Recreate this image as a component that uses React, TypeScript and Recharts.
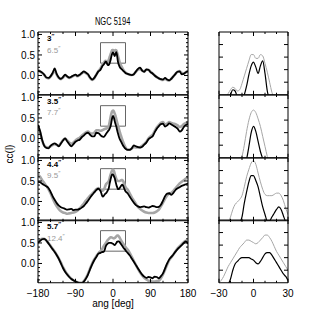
import React from 'react';
import { LineChart, Line, XAxis, YAxis, ReferenceArea } from 'recharts';

// position angle grid: 5 deg outside the box, 2 deg inside it (used by the zoom panels)
const angles = [
  -180, -175, -170, -165, -160, -155, -150, -145, -140, -135, -130, -125, -120, -115, -110,
  -105, -100, -95, -90, -85, -80, -75, -70, -65, -60, -55, -50, -45, -40, -35,
  -30, -28, -26, -24, -22, -20, -18, -16, -14, -12, -10, -8, -6, -4, -2, 0,
  2, 4, 6, 8, 10, 12, 14, 16, 18, 20, 22, 24, 26, 28, 30,
  35, 40, 45, 50, 55, 60, 65, 70, 75, 80, 85, 90, 95, 100, 105,
  110, 115, 120, 125, 130, 135, 140, 145, 150, 155, 160, 165, 170, 175, 180,
];

// black curves (small scale)
const cc3_0 = [
  0.12, 0.10, 0.07, 0.02, -0.05, -0.06, -0.02, 0.06, 0.17, 0.03, -0.05, -0.08, -0.04, 0.02, -0.02,
  -0.05, -0.03, 0.00, 0.02, -0.01, 0.02, 0.06, 0.10, 0.07, 0.03, -0.05, -0.10, -0.06, 0.02, 0.10,
  0.14, 0.18, 0.22, 0.25, 0.27, 0.30, 0.34, 0.33, 0.28, 0.25, 0.26, 0.30, 0.37, 0.46, 0.53, 0.56,
  0.52, 0.47, 0.53, 0.57, 0.47, 0.33, 0.26, 0.21, 0.18, 0.16, 0.14, 0.12, 0.10, 0.08, 0.06,
  0.04, 0.02, 0.01, 0.03, 0.10, 0.16, 0.19, 0.12, 0.09, 0.15, 0.14, 0.08, 0.05, 0.00, -0.04,
  -0.07, -0.09, -0.10, -0.06, -0.10, -0.12, -0.08, -0.02, 0.04, 0.09, 0.10, 0.03, 0.04, 0.08, 0.10,
];
const cc3_5 = [
  0.33, 0.18, -0.04, -0.18, -0.23, -0.24, -0.18, -0.14, -0.12, -0.15, -0.19, -0.12, -0.05, 0.00, -0.07,
  -0.14, -0.19, -0.14, -0.08, -0.05, -0.03, 0.03, 0.07, 0.12, 0.14, 0.09, 0.05, 0.05, 0.14, 0.13,
  0.08, 0.06, 0.05, 0.04, 0.04, 0.06, 0.09, 0.12, 0.15, 0.18, 0.20, 0.24, 0.29, 0.39, 0.50, 0.55,
  0.51, 0.43, 0.35, 0.29, 0.20, 0.12, 0.05, -0.01, -0.05, -0.09, -0.13, -0.17, -0.20, -0.23, -0.25,
  -0.28, -0.28, -0.24, -0.17, -0.19, -0.21, -0.22, -0.20, -0.15, -0.10, -0.02, 0.02, 0.05, 0.15, 0.24,
  0.30, 0.35, 0.36, 0.29, 0.32, 0.37, 0.34, 0.31, 0.28, 0.24, 0.17, 0.20, 0.28, 0.33, 0.36,
];
const cc4_4 = [
  0.48, 0.47, 0.43, 0.40, 0.37, 0.33, 0.24, 0.13, 0.04, -0.04, -0.10, -0.14, -0.16, -0.18, -0.20,
  -0.19, -0.18, -0.21, -0.20, -0.20, -0.18, -0.15, -0.11, -0.05, 0.02, 0.09, 0.16, 0.22, 0.28, 0.31,
  0.26, 0.20, 0.14, 0.12, 0.14, 0.17, 0.19, 0.21, 0.24, 0.28, 0.33, 0.44, 0.53, 0.61, 0.66, 0.66,
  0.62, 0.57, 0.49, 0.41, 0.35, 0.30, 0.30, 0.33, 0.36, 0.39, 0.41, 0.39, 0.34, 0.29, 0.25,
  0.20, 0.12, 0.04, -0.03, -0.09, -0.12, -0.14, -0.13, -0.12, -0.14, -0.15, -0.13, -0.11, -0.12, -0.14,
  -0.13, -0.08, 0.02, 0.13, 0.19, 0.20, 0.16, 0.21, 0.28, 0.32, 0.35, 0.38, 0.40, 0.42, 0.44,
];
const cc5_7 = [
  0.50, 0.55, 0.59, 0.60, 0.56, 0.49, 0.42, 0.35, 0.28, 0.20, 0.11, 0.00, -0.11, -0.20, -0.27,
  -0.33, -0.38, -0.41, -0.44, -0.46, -0.48, -0.48, -0.44, -0.37, -0.27, -0.14, -0.02, 0.08, 0.16, 0.24,
  0.26, 0.27, 0.28, 0.28, 0.29, 0.33, 0.40, 0.45, 0.47, 0.49, 0.50, 0.50, 0.50, 0.50, 0.49, 0.48,
  0.46, 0.45, 0.47, 0.50, 0.53, 0.54, 0.54, 0.52, 0.49, 0.46, 0.43, 0.40, 0.37, 0.35, 0.32,
  0.26, 0.20, 0.12, 0.04, -0.04, -0.12, -0.20, -0.27, -0.32, -0.35, -0.33, -0.34, -0.36, -0.32, -0.33,
  -0.36, -0.31, -0.24, -0.12, 0.00, 0.10, 0.16, 0.22, 0.29, 0.35, 0.40, 0.45, 0.50, 0.54, 0.48,
];

// grey curves (large scale)
const cc6_5 = [
  0.13, 0.10, 0.06, 0.01, -0.05, -0.07, -0.03, 0.04, 0.12, 0.02, -0.06, -0.09, -0.05, 0.00, -0.03,
  -0.06, -0.04, -0.01, 0.01, -0.02, 0.01, 0.05, 0.08, 0.06, 0.02, -0.06, -0.11, -0.07, 0.02, 0.11,
  0.17, 0.21, 0.25, 0.28, 0.31, 0.34, 0.36, 0.35, 0.33, 0.34, 0.39, 0.45, 0.51, 0.57, 0.62, 0.62,
  0.59, 0.59, 0.62, 0.61, 0.55, 0.48, 0.40, 0.32, 0.27, 0.23, 0.19, 0.15, 0.12, 0.09, 0.07,
  0.04, 0.02, 0.01, 0.03, 0.09, 0.14, 0.16, 0.12, 0.10, 0.14, 0.14, 0.09, 0.05, 0.00, -0.04,
  -0.07, -0.10, -0.11, -0.08, -0.11, -0.12, -0.08, -0.02, 0.04, 0.09, 0.11, 0.06, 0.05, 0.08, 0.11,
];
const cc7_7 = [
  0.30, 0.15, -0.05, -0.17, -0.21, -0.22, -0.19, -0.16, -0.14, -0.16, -0.17, -0.11, -0.04, 0.00, -0.05,
  -0.10, -0.13, -0.10, -0.05, -0.01, 0.02, 0.07, 0.11, 0.15, 0.17, 0.13, 0.12, 0.14, 0.20, 0.20,
  0.19, 0.19, 0.20, 0.21, 0.22, 0.23, 0.24, 0.24, 0.25, 0.26, 0.31, 0.40, 0.51, 0.60, 0.66, 0.68,
  0.66, 0.61, 0.55, 0.47, 0.39, 0.31, 0.24, 0.17, 0.10, 0.04, -0.02, -0.08, -0.13, -0.18, -0.22,
  -0.27, -0.27, -0.25, -0.21, -0.22, -0.22, -0.21, -0.18, -0.13, -0.08, 0.00, 0.05, 0.09, 0.18, 0.27,
  0.33, 0.38, 0.40, 0.34, 0.36, 0.40, 0.38, 0.36, 0.35, 0.32, 0.28, 0.30, 0.35, 0.38, 0.40,
];
const cc9_5 = [
  0.66, 0.60, 0.52, 0.45, 0.38, 0.30, 0.20, 0.08, -0.03, -0.12, -0.19, -0.24, -0.27, -0.28, -0.30,
  -0.29, -0.28, -0.27, -0.25, -0.22, -0.17, -0.11, -0.05, 0.02, 0.08, 0.14, 0.19, 0.24, 0.30, 0.33,
  0.27, 0.26, 0.26, 0.27, 0.29, 0.33, 0.39, 0.43, 0.45, 0.47, 0.50, 0.57, 0.65, 0.71, 0.76, 0.78,
  0.75, 0.68, 0.61, 0.55, 0.51, 0.50, 0.50, 0.50, 0.51, 0.52, 0.52, 0.50, 0.46, 0.40, 0.35,
  0.29, 0.20, 0.10, 0.02, -0.06, -0.13, -0.18, -0.22, -0.25, -0.27, -0.28, -0.28, -0.28, -0.27, -0.24,
  -0.20, -0.12, -0.03, 0.07, 0.15, 0.19, 0.21, 0.26, 0.32, 0.38, 0.44, 0.48, 0.52, 0.56, 0.60,
];
const cc12_4 = [
  0.52, 0.57, 0.60, 0.60, 0.56, 0.50, 0.43, 0.36, 0.29, 0.21, 0.12, 0.02, -0.09, -0.18, -0.26,
  -0.32, -0.37, -0.41, -0.44, -0.46, -0.47, -0.47, -0.43, -0.35, -0.25, -0.12, 0.00, 0.10, 0.18, 0.25,
  0.30, 0.32, 0.35, 0.39, 0.43, 0.46, 0.49, 0.52, 0.55, 0.58, 0.60, 0.62, 0.64, 0.64, 0.63, 0.62,
  0.61, 0.62, 0.64, 0.66, 0.68, 0.68, 0.66, 0.63, 0.59, 0.55, 0.52, 0.49, 0.46, 0.43, 0.40,
  0.34, 0.26, 0.16, 0.06, -0.04, -0.13, -0.22, -0.29, -0.35, -0.39, -0.42, -0.43, -0.44, -0.44, -0.43,
  -0.42, -0.36, -0.27, -0.15, -0.03, 0.08, 0.15, 0.22, 0.30, 0.37, 0.42, 0.47, 0.52, 0.55, 0.50,
];

const scaleLabels = [
  ['3', '6.5'],
  ['3.5', '7.7'],
  ['4.4', '9.5'],
  ['5.7', '12.4'],
];
const blackSeries = [cc3_0, cc3_5, cc4_4, cc5_7];
const greySeries = [cc6_5, cc7_7, cc9_5, cc12_4];

const xTicks = [-180, -90, 0, 90, 180];
const xMinor = [-150, -120, -60, -30, 30, 60, 120, 150];
const yTicks = [0, 0.5, 1.0];
const yMinor = [-0.4, -0.3, -0.2, -0.1, 0.1, 0.2, 0.3, 0.4, 0.6, 0.7, 0.8, 0.9];
const zoomXTicks = [-30, 0, 30];
const zoomXMinor = [-20, -10, 10, 20];
const zoomYTicks = [0.4, 0.5, 0.6, 0.7];
const box = { x1: -30, x2: 30, y1: 0.3, y2: 0.8 };

const FONT = "'Liberation Sans', Arial, sans-serif";
const TOP = 32;
const BOTTOM = 283;
const PH = (BOTTOM - TOP) / 4;
const PAD = 6;
const GREY = '#a6a6a6';

const fmtX = (v: number) => String(v).replace('-', '\u2212');
const fmtY = (v: number) => v.toFixed(1);

// inward ticks drawn along one edge of a panel, with labels on major ticks when asked
const edgeTick = (side: string, majors: number[], label: boolean, fmt: (v: number) => string) => (p: any) => {
  const { x, y, payload } = p;
  const v = payload.value;
  const major = majors.includes(v);
  const len = major ? 4 : 2;
  let l = { x1: x, y1: y, x2: x, y2: y - len };
  if (side === 'top') l = { x1: x, y1: y, x2: x, y2: y + len };
  if (side === 'left') l = { x1: x, y1: y, x2: x + len, y2: y };
  if (side === 'right') l = { x1: x, y1: y, x2: x - len, y2: y };
  return (
    <g>
      <line {...l} stroke="#000" strokeWidth={1} />
      {label && major && side === 'bottom' && (
        <text x={x} y={y + 14} textAnchor="middle" fontSize={10} fill="#000">
          {fmt(v)}
        </text>
      )}
      {label && major && side === 'left' && (
        <text x={x - 3} y={y} dy="0.36em" textAnchor="end" fontSize={10} fill="#000">
          {fmt(v)}
        </text>
      )}
    </g>
  );
};

function frame(
  xDomain: number[],
  xMajor: number[],
  xMin: number[],
  yDomain: number[],
  yMajor: number[],
  yMin: number[],
  showX: boolean,
  showY: boolean,
  yWidth: number,
) {
  const xAll = [...xMajor, ...xMin].sort((a, b) => a - b);
  const yAll = [...yMajor, ...yMin].sort((a, b) => a - b);
  const xc = {
    type: 'number' as const,
    dataKey: 'ang',
    domain: xDomain,
    allowDataOverflow: true,
    interval: 0 as const,
    stroke: '#000',
    ticks: xAll,
    tickSize: 0,
    tickMargin: 0,
    tickLine: false,
  };
  const yc = {
    type: 'number' as const,
    domain: yDomain,
    allowDataOverflow: true,
    interval: 0 as const,
    stroke: '#000',
    ticks: yAll,
    tickSize: 0,
    tickMargin: 0,
    tickLine: false,
  };
  return [
    <XAxis key="xt" xAxisId="xt" orientation="top" {...xc} height={1} tick={edgeTick('top', xMajor, false, fmtX)} />,
    <XAxis key="xb" xAxisId="xb" {...xc} height={showX ? 20 : 1} tick={edgeTick('bottom', xMajor, showX, fmtX)} />,
    <YAxis key="yr" yAxisId="yr" orientation="right" {...yc} width={1} tick={edgeTick('right', yMajor, false, fmtY)} />,
    <YAxis key="yl" yAxisId="yl" {...yc} width={showY ? yWidth : 1} tick={edgeTick('left', yMajor, showY, fmtY)} />,
  ];
}

function Panel({ i, zoom }: { i: number; zoom: boolean }) {
  const rows = angles.map((a, k) => ({ ang: a, b: blackSeries[i][k], g: greySeries[i][k] }));
  const last = i === 3;
  const top = TOP + i * PH;
  const h = PAD + PH + (last ? 20 : PAD);
  const left = zoom ? 205 : 0;
  const width = zoom ? 91 : 202;
  const margin = zoom
    ? { top: PAD - 1, right: 7, bottom: last ? 0 : PAD - 1, left: 13 }
    : { top: PAD - 1, right: 13, bottom: last ? 0 : PAD - 1, left: 0 };
  const axes = zoom
    ? frame([-30, 30], zoomXTicks, zoomXMinor, [0.3, 0.8], zoomYTicks, [], last, false, 1)
    : frame([-180, 180], xTicks, xMinor, [-0.47, 1.06], yTicks, yMinor, last, true, 38);
  return (
    <div style={{ position: 'absolute', left, top: top - PAD }}>
      <LineChart width={width} height={h} data={rows} margin={margin} style={{ fontFamily: FONT }}>
        {axes}
        <Line
          xAxisId="xb"
          yAxisId="yl"
          dataKey="g"
          type="monotone"
          stroke={GREY}
          strokeWidth={zoom ? 1 : 2.6}
          dot={false}
          isAnimationActive={false}
        />
        <Line
          xAxisId="xb"
          yAxisId="yl"
          dataKey="b"
          type="monotone"
          stroke="#000"
          strokeWidth={zoom ? 1.2 : 1.8}
          dot={false}
          isAnimationActive={false}
        />
        {!zoom && (
          <ReferenceArea
            xAxisId="xb"
            yAxisId="yl"
            x1={box.x1}
            x2={box.x2}
            y1={box.y1}
            y2={box.y2}
            fill="none"
            stroke="#666"
            strokeWidth={1}
          />
        )}
      </LineChart>
    </div>
  );
}

export default function App() {
  const sup = { fontSize: 6, position: 'relative' as const, top: -3 };
  return (
    <div style={{ position: 'absolute', left: 0, top: 0, width: 314, height: 314, background: '#fff', fontFamily: FONT }}>
      {[0, 1, 2, 3].map((i) => (
        <Panel key={'l' + i} i={i} zoom={false} />
      ))}
      {[0, 1, 2, 3].map((i) => (
        <Panel key={'r' + i} i={i} zoom={true} />
      ))}
      {scaleLabels.map(([b, g], i) => (
        <React.Fragment key={'lab' + i}>
          <div style={{ position: 'absolute', left: 47, top: TOP + i * PH + 3, fontSize: 8, lineHeight: '8px', fontWeight: 'bold', color: '#000' }}>
            {b}
            <span style={sup}>″</span>
          </div>
          <div style={{ position: 'absolute', left: 47, top: TOP + i * PH + 14.5, fontSize: 8, lineHeight: '8px', color: '#999' }}>
            {g}
            <span style={sup}>″</span>
          </div>
        </React.Fragment>
      ))}
      <div style={{ position: 'absolute', left: 0, width: 226, top: 16.5, textAlign: 'center', fontSize: 10, lineHeight: '10px' }}>
        <span style={{ display: 'inline-block', transform: 'scaleX(0.75)' }}>NGC 5194</span>
      </div>
      <div
        style={{
          position: 'absolute',
          left: 10,
          top: 154,
          fontSize: 10,
          lineHeight: '10px',
          whiteSpace: 'nowrap',
          transform: 'translate(-50%, -50%) rotate(-90deg)',
        }}
      >
        cc(l)
      </div>
      <div style={{ position: 'absolute', left: 0, width: 226, top: 299, textAlign: 'center', fontSize: 10, lineHeight: '10px' }}>
        ang [deg]
      </div>
    </div>
  );
}
